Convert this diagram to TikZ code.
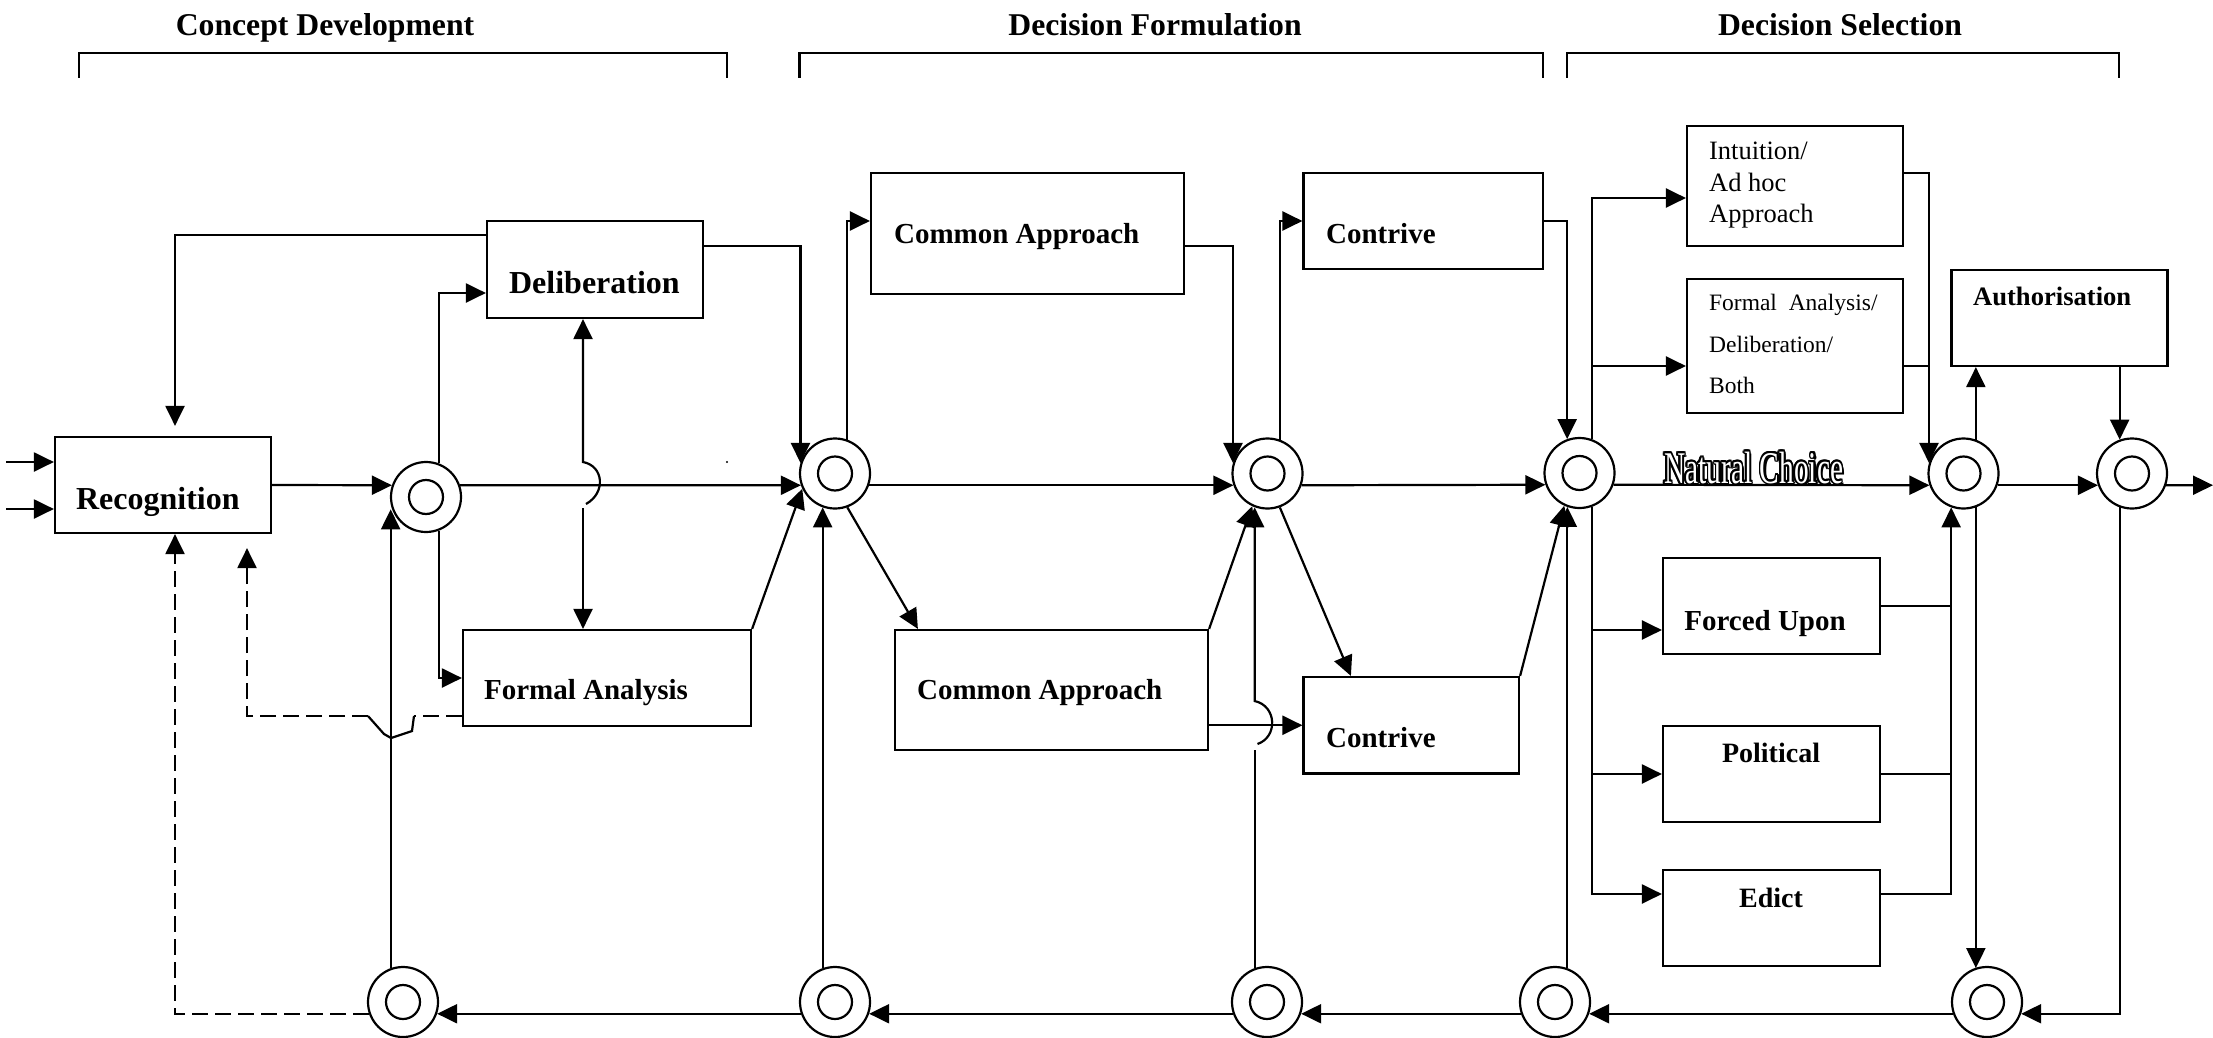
\documentclass[tikz,border=0pt]{standalone}
\usepackage{fontspec}
\usepackage{graphicx}
\setmainfont{Liberation Serif}
\usetikzlibrary{arrows.meta,calc}

\newcommand{\natchoice}{\scalebox{0.65}[1]{\fontsize{45.3}{50}\selectfont Natural Choice}}

\tikzset{
  arr/.style={-{Triangle[length=20pt,width=19pt]}},
  rarr/.style={{Triangle[length=20pt,width=19pt]}-},
  dsh/.style={dash pattern=on 16pt off 7pt},
  box/.style={draw, rectangle, inner sep=0pt},
  ring/.style={draw, circle, inner sep=0pt, minimum size=70pt,
    path picture={\draw[line width=2.2pt] (path picture bounding box.center) circle (17pt);}},
  ttl/.style={inner sep=0pt, anchor=base, font=\bfseries\fontsize{31.7}{38}\selectfont},
  lbig/.style={inner sep=0pt, font=\bfseries\fontsize{32}{38}\selectfont},
  lmid/.style={inner sep=0pt, font=\bfseries\fontsize{29}{35}\selectfont},
  lsm/.style={inner sep=0pt, font=\bfseries\fontsize{28}{34}\selectfont},
  lauth/.style={inner sep=0pt, font=\bfseries\fontsize{26.6}{32}\selectfont},
  lint/.style={inner sep=0pt, font=\fontsize{26.5}{31}\selectfont},
  lfad/.style={inner sep=0pt, font=\fontsize{23.5}{28}\selectfont},
  ncstyle/.style={inner sep=0pt, anchor=base west},
}

\begin{document}
\begin{tikzpicture}[x=1pt, y=-1pt, line width=2.2pt]
\useasboundingbox (0,0) rectangle (2213,1038);

% ---------- phase headings and brackets ----------
\node[ttl] (tcd) at (325,36) {Concept Development};
\node[ttl] (tdf) at (1155,36) {Decision Formulation};
\node[ttl] (tds) at (1840,36) {Decision Selection};
\draw (79,78) |- (727,53) -- (727,78);
\draw (799.5,78) |- (1543,53) -- (1543,78);
\draw (1567,78) |- (2119,53) -- (2119,78);

% ---------- boxes ----------
\node[box, minimum width=216pt, minimum height=96pt]    (rec)  at (163,485) {};
\node[box, minimum width=216pt, minimum height=97pt]    (del)  at (595,269.5) {};
\node[box, minimum width=288pt, minimum height=96pt]    (fa)   at (607,678) {};
\node[box, minimum width=313pt, minimum height=121pt]   (ca1)  at (1027.5,233.5) {};
\node[box, minimum width=239.5pt, minimum height=96pt]  (con1) at (1423.25,221) {};
\node[box, minimum width=313pt, minimum height=120pt]   (ca2)  at (1051.5,690) {};
\node[box, minimum width=215.5pt, minimum height=96.5pt] (con2) at (1411.25,725.25) {};
\node[box, minimum width=216pt, minimum height=120pt]   (int)  at (1795,186) {};
\node[box, minimum width=216pt, minimum height=134pt]   (fad)  at (1795,346) {};
\node[box, minimum width=216pt, minimum height=96pt]    (auth) at (2059.5,318) {};
\node[box, minimum width=217pt, minimum height=96pt]    (fu)   at (1771.5,606) {};
\node[box, minimum width=217pt, minimum height=96pt]    (pol)  at (1771.5,774) {};
\node[box, minimum width=217pt, minimum height=96pt]    (edi)  at (1771.5,918) {};

% ---------- junction rings ----------
\node[ring] (c1) at (426,497) {};
\node[ring] (c2) at (835,473.5) {};
\node[ring] (c3) at (1267.5,473.5) {};
\node[ring] (c4) at (1579.5,473) {};
\node[ring] (c5) at (1963.5,473.5) {};
\node[ring] (c6) at (2132,473.5) {};
\node[ring] (b1) at (403,1002) {};
\node[ring] (b2) at (835,1002) {};
\node[ring] (b3) at (1267,1002) {};
\node[ring] (b4) at (1555,1002) {};
\node[ring] (b5) at (1987,1002) {};

\coordinate (in1) at (6,462);
\coordinate (in2) at (6,509);
\coordinate (out) at (2213,485.2);

% ---------- main forward line ----------
\draw[arr] (in1) -- (in1 -| rec.west);
\draw[arr] (in2) -- (in2 -| rec.west);
\draw[arr] (rec.east) -- (c1.161);
\draw[arr] (c1.19) -- (c2.199);
\draw[arr] (c2.-19) -- (c3.199);
\draw[arr] (c3.-19) -- (c4.199);
\draw[arr] (c4.-19) -- (c5.199);
\draw[arr] (c5.-19) -- (c6.199);
\draw[arr] (c6.-19) -- (out);

% ---------- concept development ----------
\draw[arr] (del.west |- 0,235) -| ([xshift=12pt,yshift=10pt]rec.north);
\draw[arr] (c1.69) |- (del.west |- 0,293);
\draw[arr] (c1.-69) |- (fa.west);
\draw[rarr] (del.south -| 583,0) -- (583,462) .. controls (604,466) and (606,493) .. (586,504);
\draw[arr] (583,508) -- (fa.north -| 583,0);
\draw[arr] (del.east |- 0,246) -| (c2.163);
\draw[arr] (fa.north east) -- (c2.205);
\fill (727,462) circle (1.2pt);

% ---------- decision formulation ----------
\draw[arr] (c2.70) |- (ca1.west |- 0,221);
\draw[arr] (c2.-70) -- ([xshift=24pt]ca2.north west);
\draw[arr] (ca1.east |- 0,246) -| (c3.163);
\draw[arr] (ca2.north east) -- (c3.245);
\draw[arr] (ca2.east |- con2.west) -- (con2.west);
\draw[arr] (c3.70) |- (con1.west);
\draw[arr] (c3.-70) -- ([xshift=48.5pt]con2.north west);
\draw[arr] (con1.east) -| (c4.110);
\draw[arr] (con2.north east) -- (c4.245);

% ---------- decision selection ----------
\draw[arr] (c4.70) |- (int.west |- 0,198);
\draw[arr] (c4.70 |- 0,366) -- (fad.west |- 0,366);
\draw[arr] (c4.-70) |- (edi.west |- 0,894);
\draw[arr] (c4.-70 |- 0,630) -- (fu.west |- 0,630);
\draw[arr] (c4.-70 |- pol.west) -- (pol.west);
\draw[arr] (int.east |- 0,173) -| (c5.163);
\draw (fad.east |- 0,366) -- (c5.163 |- 0,366);
\draw[arr] (edi.east |- 0,894) -| (c5.250);
\draw (fu.east) -- (fu.east -| c5.250);
\draw (pol.east) -- (pol.east -| c5.250);
\draw[arr] (c5.70) -- (c5.70 |- auth.south);
\draw[arr] (auth.south -| c6.110) -- (c6.110);

% ---------- feedback loop along the bottom ----------
\draw[arr] (c5.-70) -- (c5.-70 |- b5.110);
\draw[arr] (c6.-110) |- (b5.-19);
\draw[arr] (b5.199) -- (b4.-19);
\draw[arr] (b4.199) -- (b3.-19);
\draw[arr] (b3.199) -- (b2.-19);
\draw[arr] (b2.199) -- (b1.-19);
\draw[arr] (b4.70) -- (b4.70 |- c4.250);
\draw (b3.110) -- (b3.110 |- 0,750);
\draw[arr] (1257.5,744) .. controls (1278,737) and (1277,706) .. (b3.110 |- 0,701) -- (b3.110 |- c3.250);
\draw[arr] (b2.110) -- (b2.110 |- c2.250);
\draw[arr] (b1.110) -- (b1.110 |- c1.200);
\draw[dsh,arr] (b1.199) -| ([xshift=12pt]rec.south);
\draw[dsh] (fa.west |- 0,716) -- (414,716);
\draw (414,716) -- (412,731) -- (391,738) -- (384,734) -- (368,716);
\draw[dsh,arr] (368,716) -- (247,716) -- ([xshift=84pt,yshift=-14pt]rec.south);

% ---------- box texts ----------
\node[lbig, anchor=base west] (recl)  at (75,509)   {Recognition};
\node[lbig, anchor=base west] (dell)  at (508,293)  {Deliberation};
\node[lmid, anchor=base west] (fal)   at (483,699)  {Formal Analysis};
\node[lmid, anchor=base west] (ca1l)  at (893,243)  {Common Approach};
\node[lmid, anchor=base west] (con1l) at (1325,243) {Contrive};
\node[lmid, anchor=base west] (ca2l)  at (916,699)  {Common Approach};
\node[lmid, anchor=base west] (con2l) at (1325,747) {Contrive};
\node[lmid, anchor=base]      (ful)   at (1765,630) {Forced Upon};
\node[lsm,  anchor=base]      (poll)  at (1771,762) {Political};
\node[lsm,  anchor=base]      (edil)  at (1771,907) {Edict};
\node[lauth, anchor=base west] (authl) at (1972,305) {Authorisation};
\node[lint, anchor=base west] (intl1) at (1708,160) {Intuition/};
\node[lint, anchor=base west] (intl2) at (1708,191) {Ad hoc};
\node[lint, anchor=base west] (intl3) at (1708,222) {Approach};
\node[lfad, anchor=base west] (fadl1) at (1708,310) {Formal\ \ Analysis/};
\node[lfad, anchor=base west] (fadl2) at (1708,352) {Deliberation/};
\node[lfad, anchor=base west] (fadl3) at (1708,393) {Both};

% ---------- outlined, shadowed "Natural Choice" ----------
\node[ncstyle, text=black] (ncshadow) at (1665.5,485) {\natchoice};
\foreach \k in {0,...,15}
  \node[ncstyle, text=black] (ncline\k) at ($(1663,483)+(\k*22.5:1.6pt)$) {\natchoice};
\node[ncstyle, text=white] (nc) at (1663,483) {\natchoice};
\end{tikzpicture}
\end{document}
